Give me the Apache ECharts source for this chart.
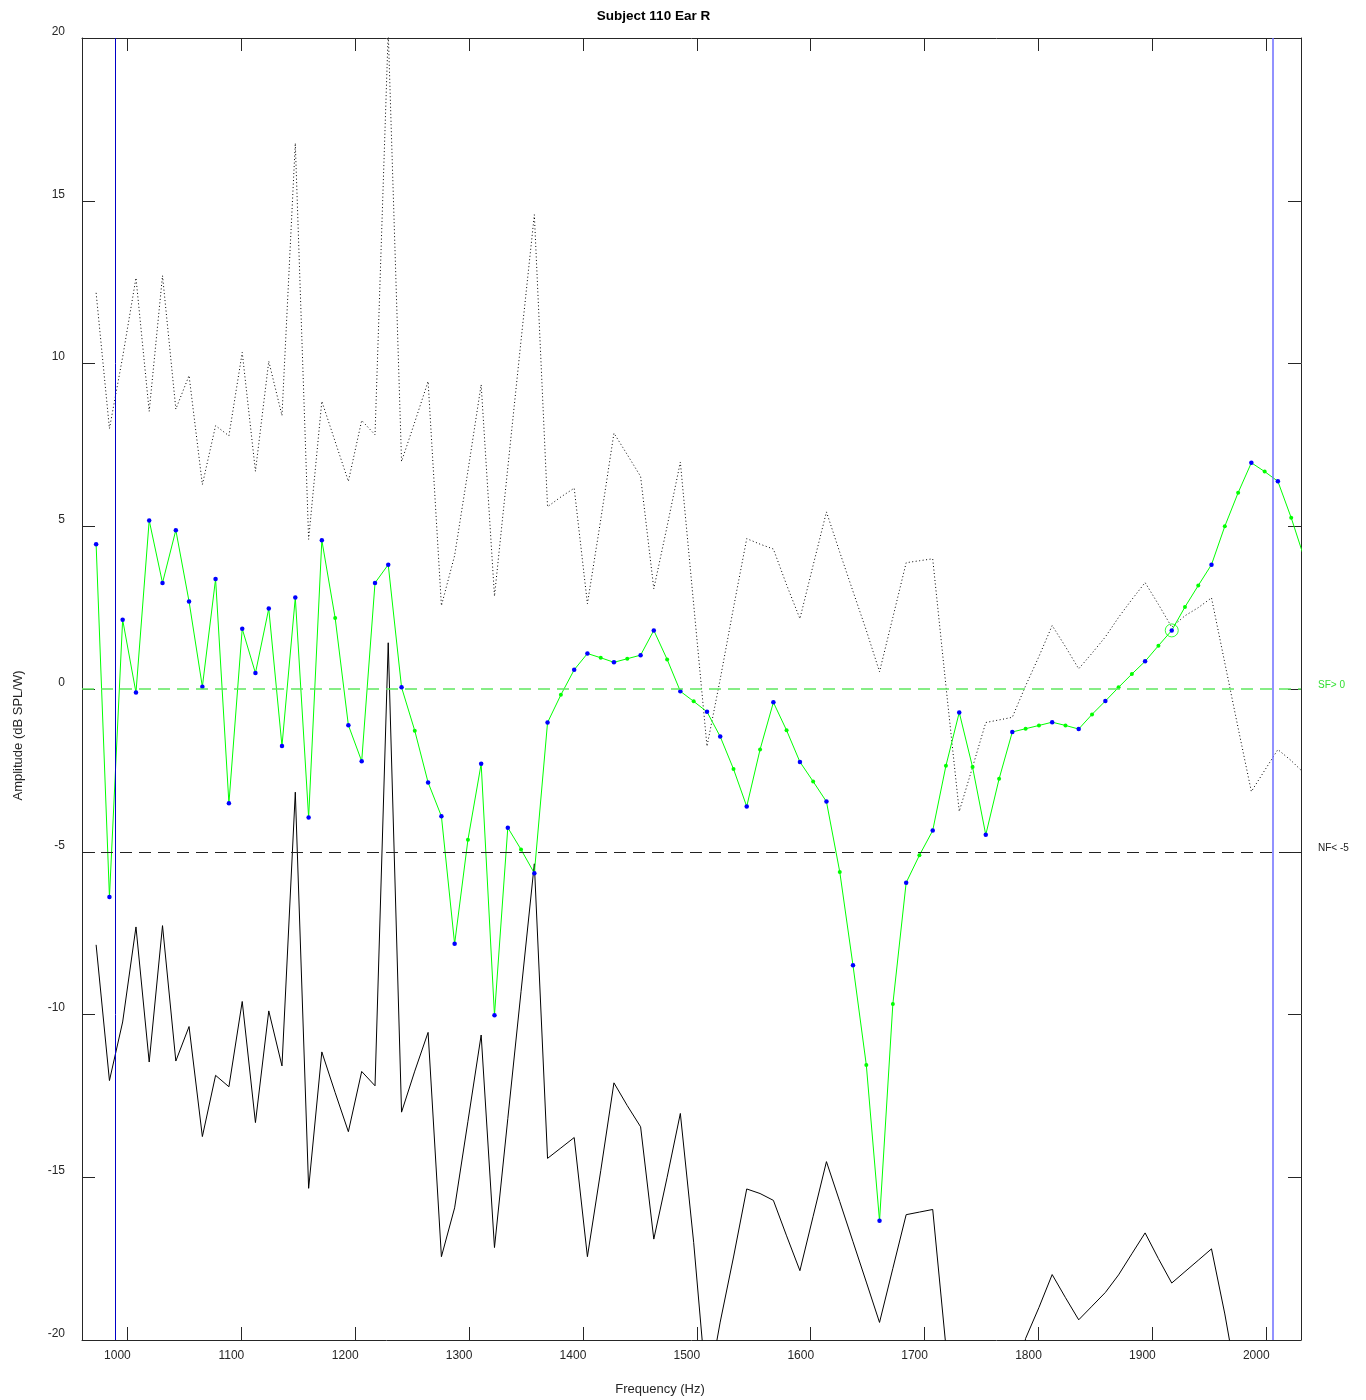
<!DOCTYPE html>
<html>
<head>
<meta charset="utf-8">
<title>Subject 110 Ear R</title>
<script src="https://cdn.jsdelivr.net/npm/echarts@6/dist/echarts.min.js"></script>
<style>
  html, body { margin: 0; padding: 0; background: #fff; }
  #chart { width: 1366px; height: 1400px; }
</style>
</head>
<body>
<div id="chart"></div>
<script>
// frequencies of the measured points (Hz)
const freqs = [
  972.5, 984.2, 995.8, 1007.5, 1019.1, 1030.8, 1042.5, 1054.1, 1065.8, 1077.4,
  1089.1, 1100.8, 1112.4, 1124.1, 1135.7, 1147.4, 1159.1, 1170.7, 1182.4, 1194.0,
  1205.7, 1217.4, 1229.0, 1240.7, 1252.3, 1264.0, 1275.7, 1287.3, 1299.0, 1310.6,
  1322.3, 1334.0, 1345.6, 1357.3, 1368.9, 1380.6, 1392.3, 1403.9, 1415.6, 1427.2,
  1438.9, 1450.6, 1462.2, 1473.9, 1485.5, 1497.2, 1508.9, 1520.5, 1532.2, 1543.8,
  1555.5, 1567.2, 1578.8, 1590.5, 1602.1, 1613.8, 1625.5, 1637.1, 1648.8, 1660.4,
  1672.1, 1683.8, 1695.4, 1707.1, 1718.7, 1730.4, 1742.1, 1753.7, 1765.4, 1777.0,
  1788.7, 1800.4, 1812.0, 1823.7, 1835.3, 1847.0, 1858.7, 1870.3, 1882.0, 1893.6,
  1905.3, 1917.0, 1928.6, 1940.3, 1951.9, 1963.6, 1975.3, 1986.9, 1998.6, 2010.2,
  2021.9, 2033.6
]

// response level (green line)
const sfLevel = [
  4.45, -6.39, 2.13, -0.11, 5.18, 3.26, 4.88, 2.69, 0.07, 3.38,
  -3.51, 1.85, 0.49, 2.47, -1.75, 2.81, -3.95, 4.57, 2.18, -1.11,
  -2.22, 3.26, 3.82, 0.05, -1.28, -2.87, -3.91, -7.83, -4.63, -2.30,
  -10.02, -4.26, -4.93, -5.66, -1.03, -0.18, 0.59, 1.09, 0.96, 0.82,
  0.93, 1.04, 1.80, 0.91, -0.07, -0.38, -0.70, -1.46, -2.46, -3.61,
  -1.86, -0.41, -1.27, -2.24, -2.84, -3.46, -5.62, -8.49, -11.55, -16.34,
  -9.68, -5.95, -5.11, -4.35, -2.36, -0.72, -2.40, -4.48, -2.76, -1.32,
  -1.22, -1.12, -1.02, -1.12, -1.23, -0.78, -0.37, 0.05, 0.46, 0.85,
  1.33, 1.80, 2.52, 3.18, 3.82, 5.00, 6.03, 6.95, 6.68, 6.38,
  5.26, 4.0
]

// 1 = blue point, 0 = green point
const significant = [
  1, 1, 1, 1, 1, 1, 1, 1, 1, 1,
  1, 1, 1, 1, 1, 1, 1, 1, 0, 1,
  1, 1, 1, 1, 0, 1, 1, 1, 0, 1,
  1, 1, 0, 1, 1, 0, 1, 1, 0, 1,
  0, 1, 1, 0, 1, 0, 1, 1, 0, 1,
  0, 1, 0, 1, 0, 1, 0, 1, 0, 1,
  0, 1, 0, 1, 0, 1, 0, 1, 0, 1,
  0, 0, 1, 0, 1, 0, 1, 0, 0, 1,
  0, 1, 0, 0, 1, 0, 0, 1, 0, 1,
  0, 0
]

// dotted black line
const upperLevel = [
  12.17, 8.00, 10.2, 12.63, 8.53, 12.70, 8.60, 9.63, 6.28, 8.09,
  7.78, 10.34, 6.69, 10.07, 8.40, 16.77, 4.6, 8.84, 7.6, 6.38,
  8.25, 7.81, 20.2, 6.99, 8.2, 9.45, 2.56, 4.1, 6.7, 9.35,
  2.85, 6.8, 10.7, 14.57, 5.60, 5.9, 6.17, 2.62, 5.2, 7.86,
  7.2, 6.53, 3.08, 5.0, 6.97, 2.6, -1.76, 0.3, 2.5, 4.62,
  4.45, 4.30, 3.2, 2.16, 3.8, 5.44, 4.2, 3.0, 1.8, 0.53,
  2.2, 3.88, 3.94, 4.00, 0.1, -3.76, -2.4, -1.03, -0.95, -0.87,
  0.1, 1.0, 1.95, 1.3, 0.62, 1.1, 1.6, 2.2, 2.75, 3.27,
  2.6, 1.9, 2.25, 2.5, 2.80, 0.8, -1.2, -3.15, -2.5, -1.86,
  -2.2, -2.6
]

// solid black line
const noiseFloor = [
  -7.86, -12.03, -10.23, -7.31, -11.46, -7.27, -11.43, -10.37, -13.75, -11.87,
  -12.22, -9.60, -13.32, -9.89, -11.58, -3.17, -15.34, -11.15, -12.4, -13.60,
  -11.75, -12.19, 1.42, -13.0, -11.74, -10.55, -17.44, -15.94, -13.28, -10.63,
  -17.16, -13.2, -9.3, -5.37, -14.42, -14.1, -13.78, -17.44, -14.8, -12.10,
  -12.8, -13.45, -16.90, -15.0, -13.04, -17.0, -21.7, -19.45, -17.45, -15.36,
  -15.5, -15.71, -16.8, -17.87, -16.2, -14.52, -15.75, -16.98, -18.22, -19.46,
  -17.8, -16.15, -16.07, -15.99, -20.2, -22.5, -23.5, -23, -22.8, -21.8,
  -19.95, -19.0, -17.99, -18.7, -19.38, -18.96, -18.54, -18.0, -17.35, -16.71,
  -17.5, -18.25, -17.9, -17.55, -17.2, -19.2, -21.5, -22.5, -23, -22,
  -22.5, -22
]

const freqMarkers = [989.6, 2005.8]
const sfLimit = 0
const nfLimit = -5
const circledIndex = 81
const xTicks = [1000, 1100, 1200, 1300, 1400, 1500, 1600, 1700, 1800, 1900, 2000]

const axisColor = '#262626'
const font = '"Liberation Sans", Arial, Helvetica, sans-serif'

const chart = echarts.init(document.getElementById('chart'), null, { renderer: 'canvas' })

const pairs = arr => freqs.map((f, i) => [f, arr[i]])

const xBase = {
  type: 'value',
  min: 960.1,
  max: 2030.5,
  splitLine: { show: false },
  axisLine: { show: true, onZero: false, lineStyle: { color: axisColor, width: 1 } },
  axisTick: { show: true, inside: true, length: 13, customValues: xTicks, lineStyle: { color: axisColor } }
}
const yBase = {
  type: 'value',
  min: -20,
  max: 20,
  interval: 5,
  splitLine: { show: false },
  axisLine: { show: true, onZero: false, lineStyle: { color: axisColor, width: 1 } },
  axisTick: { show: true, inside: true, length: 13, lineStyle: { color: axisColor } }
}

chart.setOption({
  animation: false,
  backgroundColor: '#fff',
  grid: { left: 82, top: 38, width: 1219, height: 1302, outerBoundsMode: 'none', containLabel: false },
  xAxis: [
    Object.assign({}, xBase, {
      position: 'bottom',
      axisLabel: {
        customValues: xTicks,
        formatter: v => String(v),
        color: axisColor,
        fontSize: 12,
        fontFamily: font,
        margin: 10,
        padding: [0, 20, 0, 0],
        showMinLabel: true,
        showMaxLabel: true
      }
    }),
    Object.assign({}, xBase, { position: 'top', axisLabel: { show: false } })
  ],
  yAxis: [
    Object.assign({}, yBase, {
      position: 'left',
      axisLabel: {
        formatter: v => String(v),
        color: axisColor,
        fontSize: 12,
        fontFamily: font,
        margin: 17,
        verticalAlign: 'bottom',
        lineHeight: 13,
        showMinLabel: true,
        showMaxLabel: true
      }
    }),
    Object.assign({}, yBase, { position: 'right', axisLabel: { show: false } })
  ],
  graphic: [
    {
      type: 'text',
      x: 653.5,
      y: 16,
      style: {
        text: 'Subject 110 Ear R',
        font: 'bold 13.5px ' + font,
        fill: '#000',
        align: 'center',
        verticalAlign: 'middle'
      }
    },
    {
      type: 'text',
      x: 660,
      y: 1389,
      style: {
        text: 'Frequency (Hz)',
        font: '13px ' + font,
        fill: axisColor,
        align: 'center',
        verticalAlign: 'middle'
      }
    },
    {
      type: 'text',
      x: 18,
      y: 735.5,
      rotation: Math.PI / 2,
      style: {
        text: 'Amplitude (dB SPL/W)',
        font: '13px ' + font,
        fill: axisColor,
        align: 'center',
        verticalAlign: 'middle'
      }
    }
  ],
  series: [
    {
      name: 'upper',
      type: 'line',
      data: pairs(upperLevel),
      symbol: 'none',
      clip: true,
      silent: true,
      lineStyle: { color: '#000', width: 1, type: [1, 2.5] },
      z: 2
    },
    {
      name: 'noise',
      type: 'line',
      data: pairs(noiseFloor),
      symbol: 'none',
      clip: true,
      silent: true,
      lineStyle: { color: '#000', width: 1 },
      z: 2,
      markLine: {
        silent: true,
        symbol: 'none',
        animation: false,
        data: [
          {
            yAxis: sfLimit,
            lineStyle: { color: '#5fe85f', type: [12, 7], width: 1.5 },
            label: {
              show: true, position: 'end', formatter: 'SF> 0', color: '#33e033',
              fontSize: 10, fontFamily: font, distance: 17, verticalAlign: 'bottom', lineHeight: 8
            }
          },
          {
            yAxis: nfLimit,
            lineStyle: { color: '#222', type: [12, 7], width: 1 },
            label: {
              show: true, position: 'end', formatter: 'NF< -5', color: '#222',
              fontSize: 10, fontFamily: font, distance: 17, verticalAlign: 'bottom', lineHeight: 8
            }
          },
          {
            xAxis: freqMarkers[0],
            lineStyle: { color: '#0000c8', type: 'solid', width: 1 },
            label: { show: false }
          },
          {
            xAxis: freqMarkers[1],
            lineStyle: { color: '#6e6eff', type: 'solid', width: 1.5 },
            label: { show: false }
          }
        ]
      }
    },
    {
      name: 'level',
      type: 'line',
      clip: true,
      silent: true,
      symbol: 'circle',
      showAllSymbol: true,
      lineStyle: { color: '#00ff00', width: 1 },
      data: freqs.map((f, i) => ({
        value: [f, sfLevel[i]],
        symbolSize: significant[i] ? 4.5 : 4,
        itemStyle: { color: significant[i] ? '#0000ff' : '#00ff00', borderWidth: 0 }
      })),
      z: 4
    },
    {
      name: 'circled',
      type: 'scatter',
      silent: true,
      symbol: 'circle',
      symbolSize: 13,
      itemStyle: { color: 'transparent', borderColor: '#00ff00', borderWidth: 1 },
      data: [[freqs[circledIndex], sfLevel[circledIndex]]],
      z: 5
    }
  ]
})
</script>
</body>
</html>
